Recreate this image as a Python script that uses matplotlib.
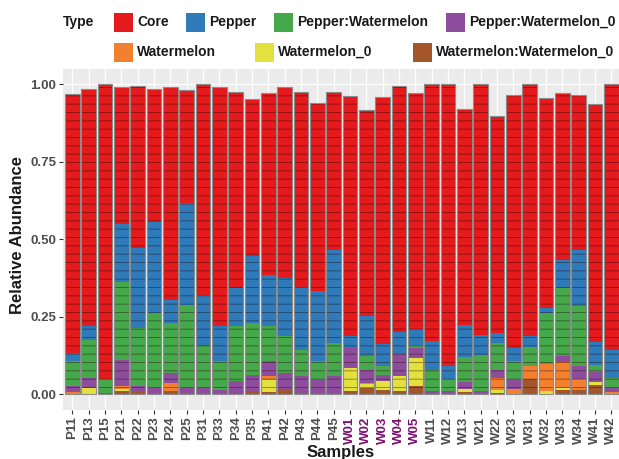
import numpy as np
import matplotlib
matplotlib.use("Agg")
import matplotlib.pyplot as plt
from matplotlib.patches import Rectangle

plt.rcParams['font.family'] = ['Liberation Sans', 'DejaVu Sans']
plt.rcParams['font.weight'] = 'bold'
plt.rcParams['hatch.linewidth'] = 0.7

samples = ["P11", "P13", "P15", "P21", "P22", "P23", "P24", "P25", "P31", "P33",
           "P34", "P35", "P41", "P42", "P43", "P44", "P45", "W01", "W02", "W03",
           "W04", "W05", "W11", "W12", "W13", "W21", "W22", "W23", "W31", "W32",
           "W33", "W34", "W41", "W42"]
highlight = ["W01", "W02", "W03", "W04", "W05"]

types = ["Core", "Pepper", "Pepper:Watermelon", "Pepper:Watermelon_0",
         "Watermelon", "Watermelon_0", "Watermelon:Watermelon_0"]

# relative abundance per type, one value per sample
core = [0.834, 0.767, 0.951, 0.441, 0.525, 0.430, 0.688, 0.364, 0.680, 0.772,
        0.632, 0.505, 0.588, 0.618, 0.632, 0.610, 0.510, 0.776, 0.666, 0.798,
        0.796, 0.763, 0.828, 0.911, 0.697, 0.809, 0.701, 0.817, 0.814, 0.680,
        0.540, 0.501, 0.770, 0.857]
pepper = [0.026, 0.043, 0.000, 0.186, 0.258, 0.294, 0.073, 0.328, 0.166, 0.113,
          0.124, 0.218, 0.165, 0.188, 0.201, 0.226, 0.301, 0.038, 0.129, 0.073,
          0.067, 0.051, 0.094, 0.041, 0.103, 0.064, 0.032, 0.043, 0.034, 0.016,
          0.091, 0.183, 0.072, 0.091]
pepper_wm = [0.083, 0.123, 0.045, 0.252, 0.186, 0.242, 0.161, 0.269, 0.135, 0.091,
             0.177, 0.167, 0.113, 0.118, 0.086, 0.059, 0.108, 0.000, 0.044, 0.027,
             0.000, 0.011, 0.069, 0.039, 0.081, 0.118, 0.087, 0.059, 0.061, 0.163,
             0.220, 0.194, 0.023, 0.033]
pepper_wm0 = [0.018, 0.033, 0.000, 0.086, 0.020, 0.019, 0.033, 0.019, 0.019, 0.014,
              0.038, 0.053, 0.048, 0.052, 0.057, 0.046, 0.057, 0.064, 0.043, 0.021,
              0.075, 0.032, 0.009, 0.009, 0.022, 0.009, 0.026, 0.030, 0.000, 0.000,
              0.020, 0.041, 0.032, 0.014]
watermelon = [0.007, 0.000, 0.000, 0.010, 0.000, 0.000, 0.026, 0.000, 0.000, 0.000,
              0.000, 0.000, 0.013, 0.000, 0.000, 0.000, 0.000, 0.000, 0.004, 0.000,
              0.000, 0.000, 0.000, 0.000, 0.000, 0.000, 0.039, 0.016, 0.043, 0.089,
              0.083, 0.034, 0.000, 0.005]
watermelon0 = [0.000, 0.019, 0.000, 0.006, 0.000, 0.000, 0.000, 0.000, 0.000, 0.000,
               0.000, 0.000, 0.039, 0.000, 0.000, 0.000, 0.000, 0.075, 0.012, 0.027,
               0.048, 0.091, 0.000, 0.000, 0.011, 0.000, 0.010, 0.000, 0.000, 0.009,
               0.005, 0.000, 0.010, 0.000]
wm_wm0 = [0.000, 0.000, 0.004, 0.009, 0.007, 0.000, 0.009, 0.000, 0.000, 0.000,
          0.003, 0.009, 0.005, 0.016, 0.000, 0.000, 0.000, 0.009, 0.019, 0.014,
          0.009, 0.025, 0.000, 0.000, 0.005, 0.000, 0.003, 0.000, 0.048, 0.000,
          0.014, 0.014, 0.030, 0.000]

colors = ["#E41A1C", "#2F7BBA", "#45A84B", "#8E4D9C", "#F3802F", "#E4E03E", "#A3552B"]

# ggplot stacks the first level on top, so draw from the last type upwards
series = [core, pepper, pepper_wm, pepper_wm0, watermelon, watermelon0, wm_wm0]

fig = plt.figure(figsize=(6.19, 4.59), dpi=100)
W, H = 619, 459
ax = fig.add_axes([63 / W, (H - 409.5) / H, (619 - 63) / W, 340.7 / H])
ax.set_facecolor("#EBEBEB")

x = np.arange(len(samples))
bottom = np.zeros(len(samples))
for vals, col in zip(series[::-1], colors[::-1]):
    vals = np.array(vals)
    ax.bar(x, vals, bottom=bottom, width=0.9, color=col, edgecolor="none",
           linewidth=0, zorder=3)
    # thin dark stripes like the OTU boundaries
    ax.bar(x, vals, bottom=bottom, width=0.9, color="none",
           edgecolor=(0.12, 0.0, 0.0, 0.4), linewidth=0, hatch="--", zorder=4)
    bottom += vals
ax.bar(x, bottom, width=0.9, color="none", edgecolor="#8C8C8C", linewidth=0.8,
       zorder=5)

ax.set_xlim(-0.58, 33.47)
ax.set_ylim(-0.05, 1.05)
ax.set_yticks([0, 0.25, 0.5, 0.75, 1.0])
ax.set_yticklabels(["0.00", "0.25", "0.50", "0.75", "1.00"])
ax.set_yticks([0.125, 0.375, 0.625, 0.875], minor=True)
ax.set_xticks(x)
ax.set_xticklabels(samples, rotation=90)
for lab in ax.get_xticklabels():
    lab.set_color("#7B1070" if lab.get_text() in highlight else "#4D4D4D")
for lab in ax.get_yticklabels():
    lab.set_color("#4D4D4D")
ax.tick_params(axis="both", which="major", labelsize=9.5, length=3,
               color="#333333", width=0.8, pad=2)
ax.tick_params(axis="y", which="minor", length=0)
ax.grid(True, which="major", color="white", linewidth=0.9, zorder=0)
ax.grid(True, which="minor", axis="y", color="white", linewidth=0.45, zorder=0)
ax.set_axisbelow(True)
for s in ax.spines.values():
    s.set_visible(False)

fig.text(18 / W, 1 - 235 / H, "Relative Abundance", rotation=90, ha="center",
         va="center", fontsize=12, fontweight="bold", color="#1A1A1A")
fig.text(341 / W, 1 - 452 / H, "Samples", ha="center", va="center",
         fontsize=12, fontweight="bold", color="#1A1A1A")

# legend drawn at the top, laid out like the ggplot legend
fig.text(63 / W, 1 - 22 / H, "Type", ha="left", va="center", fontsize=10,
         fontweight="bold", color="#1A1A1A")
key_pos = [(114, 22), (186, 22), (274, 22), (446, 22), (114, 52), (255, 52), (413, 52)]
for (kx, ky), name, col in zip(key_pos, types, colors):
    fig.patches.append(Rectangle((kx / W, 1 - (ky + 9.5) / H), 19 / W, 19 / H,
                                 transform=fig.transFigure, facecolor=col,
                                 edgecolor="none"))
    fig.text((kx + 23) / W, 1 - ky / H, name, ha="left", va="center",
             fontsize=10, fontweight="bold", color="#1A1A1A")

fig.savefig("out.png", dpi=100)
